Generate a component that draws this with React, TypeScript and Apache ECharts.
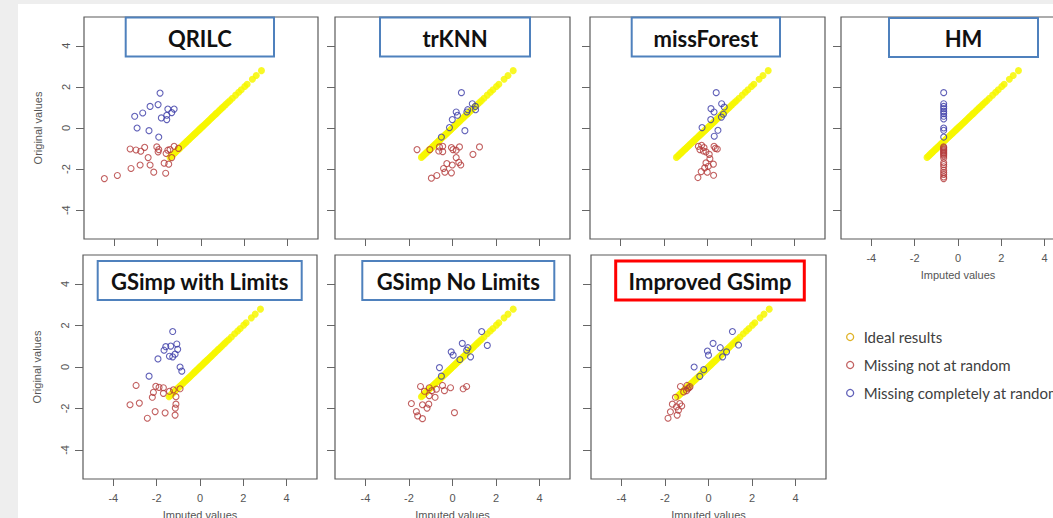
import React, { useEffect, useRef } from "react";
import * as echarts from "echarts";

// ---------- data ----------
const panelTitles = [
  "QRILC",
  "trKNN",
  "missForest",
  "HM",
  "GSimp with Limits",
  "GSimp No Limits",
  "Improved GSimp",
];
const tickValues = [-4, -2, 0, 2, 4];
const legendNames = [
  "Ideal results",
  "Missing not at random",
  "Missing completely at random",
];
const xAxisTitle = "Imputed values";
const yAxisTitle = "Original values";

// ideal results lie on y = x
const idealValues = [
  -1.43, -1.37, -1.32, -1.26, -1.21, -1.16, -1.1, -1.04, -0.99, -0.93, -0.88,
  -0.82, -0.77, -0.71, -0.65, -0.6, -0.54, -0.49, -0.43, -0.37, -0.31, -0.26,
  -0.2, -0.14, -0.08, -0.03, 0.03, 0.09, 0.15, 0.21, 0.27, 0.33, 0.39, 0.46,
  0.52, 0.58, 0.65, 0.71, 0.78, 0.85, 0.92, 0.99, 1.07, 1.15, 1.24, 1.33, 1.45,
  1.6, 1.74, 1.86, 2.02, 2.13, 2.37, 2.55, 2.79,
];

const qrilcMnar = [
  [-3.27, -1.02], [-3.0, -1.07], [-2.78, -1.13], [-2.6, -0.94], [-2.04, -0.92],
  [-1.95, -1.05], [-1.98, -1.16], [-1.61, -1.24], [-1.53, -1.08], [-1.43, -1.05],
  [-1.24, -0.89], [-1.04, -0.99], [-2.44, -1.44], [-1.35, -1.44], [-1.7, -1.71],
  [-1.49, -1.76], [-2.81, -1.8], [-2.35, -1.8], [-3.23, -1.97], [-2.18, -2.15],
  [-1.63, -2.2], [-3.86, -2.31], [-4.46, -2.46],
];
const qrilcMcar = [
  [-1.89, 1.7], [-1.98, 1.14], [-2.35, 1.05], [-2.69, 0.73], [-3.06, 0.57],
  [-1.53, 0.92], [-1.24, 0.92], [-1.35, 0.75], [-1.58, 0.62], [-1.83, 0.49],
  [-1.58, 0.41], [-2.95, 0.0], [-2.4, -0.13], [-1.95, -0.44],
];

const trknnMnar = [
  [-1.63, -1.05], [-1.04, -1.05], [-0.6, -0.92], [-0.45, -0.89], [-0.63, -1.12],
  [-0.45, -1.15], [-0.05, -0.95], [0.02, -1.05], [0.17, -1.08], [0.32, -0.92],
  [1.24, -0.92], [0.94, -1.28], [0.17, -1.44], [-0.26, -1.73], [-0.01, -1.8],
  [0.29, -1.67], [0.38, -1.8], [-0.41, -1.97], [-0.35, -2.15], [-0.05, -2.18],
  [-0.72, -2.31], [-0.97, -2.44],
];
const trknnMcar = [
  [0.41, 1.72], [0.91, 1.18], [1.05, 1.05], [1.06, 0.89], [0.7, 0.89],
  [0.66, 0.78], [0.17, 0.78], [0.23, 0.62], [-0.01, 0.41], [-0.14, 0.02],
  [0.57, -0.13], [-0.51, -0.44],
];

const missForestMnar = [
  [-0.42, -0.89], [-0.27, -0.84], [-0.16, -0.95], [-0.35, -1.05], [-0.19, -1.12],
  [-0.07, -1.16], [0.3, -0.89], [0.36, -0.99], [0.45, -1.02], [0.08, -1.28],
  [0.11, -1.49], [-0.07, -1.7], [0.27, -1.76], [0.04, -1.86], [-0.13, -1.94],
  [-0.29, -2.12], [-0.01, -2.15], [0.28, -2.3], [-0.44, -2.41],
];
const missForestMcar = [
  [0.4, 1.72], [0.16, 0.94], [0.3, 0.78], [0.65, 1.18], [0.77, 1.02],
  [0.73, 0.67], [0.64, 0.53], [0.15, 0.41], [-0.25, 0.02], [0.48, -0.11],
  [0.31, -0.4],
];

const hmMnar = [
  [-0.66, -0.92], [-0.66, -0.97], [-0.66, -1.03], [-0.66, -1.08], [-0.66, -1.13],
  [-0.66, -1.19], [-0.66, -1.24], [-0.66, -1.3], [-0.66, -1.36], [-0.66, -1.46],
  [-0.66, -1.68], [-0.66, -1.78], [-0.66, -1.89], [-0.66, -2.05], [-0.66, -2.17],
  [-0.66, -2.26], [-0.66, -2.38], [-0.66, -2.46],
];
const hmMcar = [
  [-0.66, 1.72], [-0.66, 1.18], [-0.66, 1.05], [-0.66, 0.94], [-0.66, 0.81],
  [-0.66, 0.7], [-0.66, 0.57], [-0.66, 0.44], [-0.66, 0.0], [-0.66, -0.11],
  [-0.66, -0.44],
];

const gsimpLimMnar = [
  [-2.95, -0.89], [-2.04, -0.93], [-1.89, -0.98], [-1.69, -1.0], [-2.15, -1.22],
  [-1.69, -1.27], [-1.41, -1.17], [-1.23, -1.1], [-0.92, -1.05], [-2.2, -1.46],
  [-1.11, -1.43], [-2.8, -1.74], [-3.23, -1.82], [-1.11, -1.79], [-1.14, -1.98],
  [-2.07, -2.15], [-1.61, -2.21], [-1.15, -2.32], [-2.43, -2.47],
];
const gsimpLimMcar = [
  [-1.26, 1.71], [-1.07, 1.11], [-1.35, 1.01], [-1.58, 0.98], [-1.66, 0.81],
  [-1.03, 0.85], [-1.15, 0.62], [-1.41, 0.52], [-1.26, 0.49], [-1.94, 0.39],
  [-0.92, 0.0], [-0.84, -0.2], [-2.35, -0.44],
];

const gsimpNoLimMnar = [
  [-1.47, -0.94], [-1.07, -1.0], [-1.29, -1.17], [-0.95, -1.14], [-0.74, -1.07],
  [-0.46, -0.89], [-0.37, -1.14], [-0.09, -1.0], [0.49, -1.05], [0.65, -0.94],
  [-1.07, -1.38], [-0.8, -1.46], [-1.89, -1.76], [-1.38, -1.82], [-1.09, -1.79],
  [-1.17, -1.98], [-1.66, -2.15], [-1.6, -2.36], [-1.38, -2.49], [0.09, -2.2],
];
const gsimpNoLimMcar = [
  [1.34, 1.71], [1.6, 1.04], [0.45, 1.14], [0.71, 0.93], [0.65, 0.81],
  [-0.06, 0.73], [0.03, 0.57], [0.83, 0.49], [0.34, 0.36], [-0.6, -0.03],
  [-0.51, -0.44],
];

const improvedMnar = [
  [-1.29, -0.94], [-0.99, -0.89], [-0.89, -1.0], [-0.95, -1.05], [-0.85, -0.95],
  [-1.01, -1.14], [-1.14, -1.2], [-1.52, -1.46], [-1.66, -1.79], [-1.32, -1.76],
  [-1.23, -1.88], [-1.47, -1.92], [-1.38, -2.08], [-1.75, -2.16], [-1.44, -2.32],
  [-1.86, -2.47],
];
const improvedMcar = [
  [1.1, 1.71], [1.38, 1.06], [0.21, 1.14], [0.54, 0.93], [0.83, 0.73],
  [-0.05, 0.77], [0.0, 0.57], [0.65, 0.49], [-0.66, 0.0], [-0.22, -0.13],
  [-0.4, -0.45],
];

const mnarByPanel = [
  qrilcMnar, trknnMnar, missForestMnar, hmMnar, gsimpLimMnar, gsimpNoLimMnar, improvedMnar,
];
const mcarByPanel = [
  qrilcMcar, trknnMcar, missForestMcar, hmMcar, gsimpLimMcar, gsimpNoLimMcar, improvedMcar,
];

// ---------- layout ----------
const gridBoxes = [
  { left: 84, top: 17, width: 234, height: 222 },
  { left: 335, top: 17, width: 235, height: 222 },
  { left: 590, top: 17, width: 235, height: 222 },
  { left: 841, top: 17, width: 234, height: 222 },
  { left: 83, top: 255, width: 234, height: 224 },
  { left: 335, top: 255, width: 235, height: 224 },
  { left: 591, top: 255, width: 235, height: 224 },
];
const titleBoxes = [
  { x: 125.7, y: 17.5, w: 148.3, h: 39 },
  { x: 380, y: 17.5, w: 150, h: 39 },
  { x: 631.7, y: 17.5, w: 148.3, h: 39 },
  { x: 889, y: 18, w: 149, h: 39 },
  { x: 97.7, y: 261, w: 204, h: 39 },
  { x: 362.3, y: 261, w: 192, h: 39 },
  { x: 615.7, y: 261, w: 188.6, h: 39 },
];
const showXLabels = [false, false, false, true, true, true, true];
const showYLabels = [true, false, false, false, true, false, false];
const highlightPanel = 6;

const AXIS_FONT = "Liberation Sans, Arial, sans-serif";
const AXIS_COLOR = "#555";
const YELLOW = "#f7f700";
const RED = "#b33a3a";
const BLUE = "#3a3aa6";

export default function App() {
  const ref = useRef<HTMLDivElement>(null);

  useEffect(() => {
    document.body.style.margin = "0";
    if (!ref.current) return;
    const chart = echarts.init(ref.current, undefined, { renderer: "svg" });

    const grids = gridBoxes.map((g) => ({
      ...g,
      show: true,
      containLabel: false,
      outerBoundsMode: "none",
      backgroundColor: "#fff",
      borderColor: "#5a5a5a",
      borderWidth: 1.2,
    }));

    const xAxes = gridBoxes.map((_, i) => ({
      gridIndex: i,
      type: "value",
      position: "bottom",
      min: -5.4,
      max: 5.4,
      axisLine: { show: false, onZero: false },
      splitLine: { show: false },
      axisTick: {
        show: true,
        inside: false,
        length: 7,
        customValues: tickValues,
        lineStyle: { color: "#666", width: 1 },
      },
      axisLabel: {
        show: showXLabels[i],
        customValues: tickValues,
        margin: 13,
        fontSize: 11,
        color: AXIS_COLOR,
        fontFamily: AXIS_FONT,
      },
      name: showXLabels[i] ? xAxisTitle : "",
      nameLocation: "middle",
      nameGap: 30,
      nameTextStyle: { fontSize: 11, color: AXIS_COLOR, fontFamily: AXIS_FONT },
    }));

    const yAxes = gridBoxes.map((_, i) => ({
      gridIndex: i,
      type: "value",
      position: "left",
      min: -5.4,
      max: 5.4,
      axisLine: { show: false, onZero: false },
      splitLine: { show: false },
      axisTick: {
        show: true,
        inside: false,
        length: 8,
        customValues: tickValues,
        lineStyle: { color: "#666", width: 1 },
      },
      axisLabel: {
        show: showYLabels[i],
        customValues: tickValues,
        rotate: 90,
        margin: 13,
        fontSize: 11,
        color: AXIS_COLOR,
        fontFamily: AXIS_FONT,
      },
      name: showYLabels[i] ? yAxisTitle : "",
      nameLocation: "middle",
      nameRotate: 90,
      nameGap: 41,
      nameTextStyle: { fontSize: 11, color: AXIS_COLOR, fontFamily: AXIS_FONT },
    }));

    const series: any[] = [];
    gridBoxes.forEach((_, i) => {
      series.push({
        type: "scatter",
        name: legendNames[0],
        xAxisIndex: i,
        yAxisIndex: i,
        data: idealValues.map((v) => [v, v]),
        symbol: "circle",
        symbolSize: 7,
        itemStyle: { color: YELLOW, opacity: 0.85 },
        z: 2,
      });
      series.push({
        type: "scatter",
        name: legendNames[1],
        xAxisIndex: i,
        yAxisIndex: i,
        data: mnarByPanel[i],
        symbol: "circle",
        symbolSize: 6,
        itemStyle: { color: "transparent", borderColor: RED, borderWidth: 1.1 },
        z: 3,
      });
      series.push({
        type: "scatter",
        name: legendNames[2],
        xAxisIndex: i,
        yAxisIndex: i,
        data: mcarByPanel[i],
        symbol: "circle",
        symbolSize: 6,
        itemStyle: { color: "transparent", borderColor: BLUE, borderWidth: 1.1 },
        z: 4,
      });
    });

    const titleGraphics = titleBoxes.map((b, i) => ({
      type: "group",
      z: 100,
      children: [
        {
          type: "rect",
          z: 100,
          shape: { x: b.x, y: b.y, width: b.w, height: b.h },
          style: {
            fill: "#fff",
            stroke: i === highlightPanel ? "#ff0000" : "#4f81bd",
            lineWidth: i === highlightPanel ? 3 : 2,
          },
        },
        {
          type: "text",
          z: 101,
          x: b.x + b.w / 2,
          y: b.y + b.h / 2 + 1,
          style: {
            text: panelTitles[i],
            fill: "#111",
            font: "bold 22px Lato, 'Open Sans', sans-serif",
            textAlign: "center",
            textVerticalAlign: "middle",
            align: "center",
            verticalAlign: "middle",
          },
        },
      ],
    }));

    chart.setOption({
      animation: false,
      backgroundColor: "#eeeeee",
      grid: grids,
      xAxis: xAxes,
      yAxis: yAxes,
      series,
      legend: {
        orient: "vertical",
        left: 841,
        top: 324,
        itemWidth: 7,
        itemHeight: 7,
        itemGap: 12,
        selectedMode: false,
        textStyle: {
          fontFamily: "Lato, 'Open Sans', sans-serif",
          fontSize: 15,
          color: "#404040",
          lineHeight: 16,
          padding: [0, 0, 0, 5],
        },
        data: [
          {
            name: legendNames[0],
            icon: "circle",
            itemStyle: { color: "transparent", borderColor: "#d9a400", borderWidth: 1.3 },
          },
          {
            name: legendNames[1],
            icon: "circle",
            itemStyle: { color: "transparent", borderColor: RED, borderWidth: 1.3 },
          },
          {
            name: legendNames[2],
            icon: "circle",
            itemStyle: { color: "transparent", borderColor: BLUE, borderWidth: 1.3 },
          },
        ],
      },
      graphic: [
        {
          type: "rect",
          z: -10,
          silent: true,
          shape: { x: 18, y: 4, width: 1040, height: 520 },
          style: { fill: "#ffffff" },
        },
        ...titleGraphics,
      ],
    });

    return () => {
      chart.dispose();
    };
  }, []);

  return <div ref={ref} style={{ width: 1053, height: 518 }} />;
}
